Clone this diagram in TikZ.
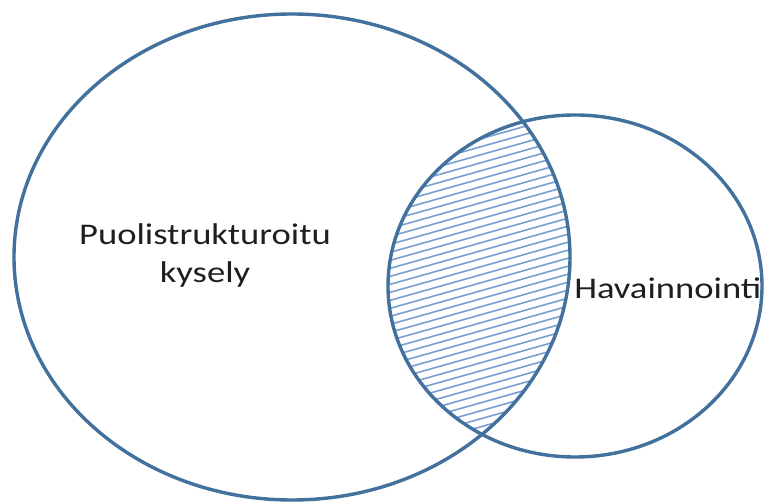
\documentclass[tikz,border=0pt]{standalone}
\usepackage{fontspec}
\setmainfont{Carlito}
\definecolor{rim}{RGB}{65,113,156}
\definecolor{hatch}{RGB}{120,158,210}
\begin{document}
\begin{tikzpicture}[x=1pt,y=-1pt,
  rimline/.style={draw=rim,line width=3.4pt},
  hatchline/.style={draw=hatch,line width=1.6pt},
  lbl/.style={inner sep=0pt,text=black!88,font=\fontsize{30}{38}\selectfont,xscale=1.22}]
\useasboundingbox[fill=white] (0,0) rectangle (766,502);
\begin{scope}
  \clip (292,257) ellipse [x radius=278,y radius=243];
  \clip (575,286) ellipse [x radius=187,y radius=171];
  \foreach \yy in {90,98,...,560}{
    \draw[hatchline] (370,\yy) -- (590,\yy-62);
  }
\end{scope}
\draw[rimline] (292,257) ellipse [x radius=278,y radius=243];
\draw[rimline] (575,286) ellipse [x radius=187,y radius=171];
\node[lbl,align=center] (big) at (205,256) {Puolistrukturoitu\\kysely};
\node[lbl,anchor=base west] (small) at (574,299) {Havainnointi};
\end{tikzpicture}
\end{document}
